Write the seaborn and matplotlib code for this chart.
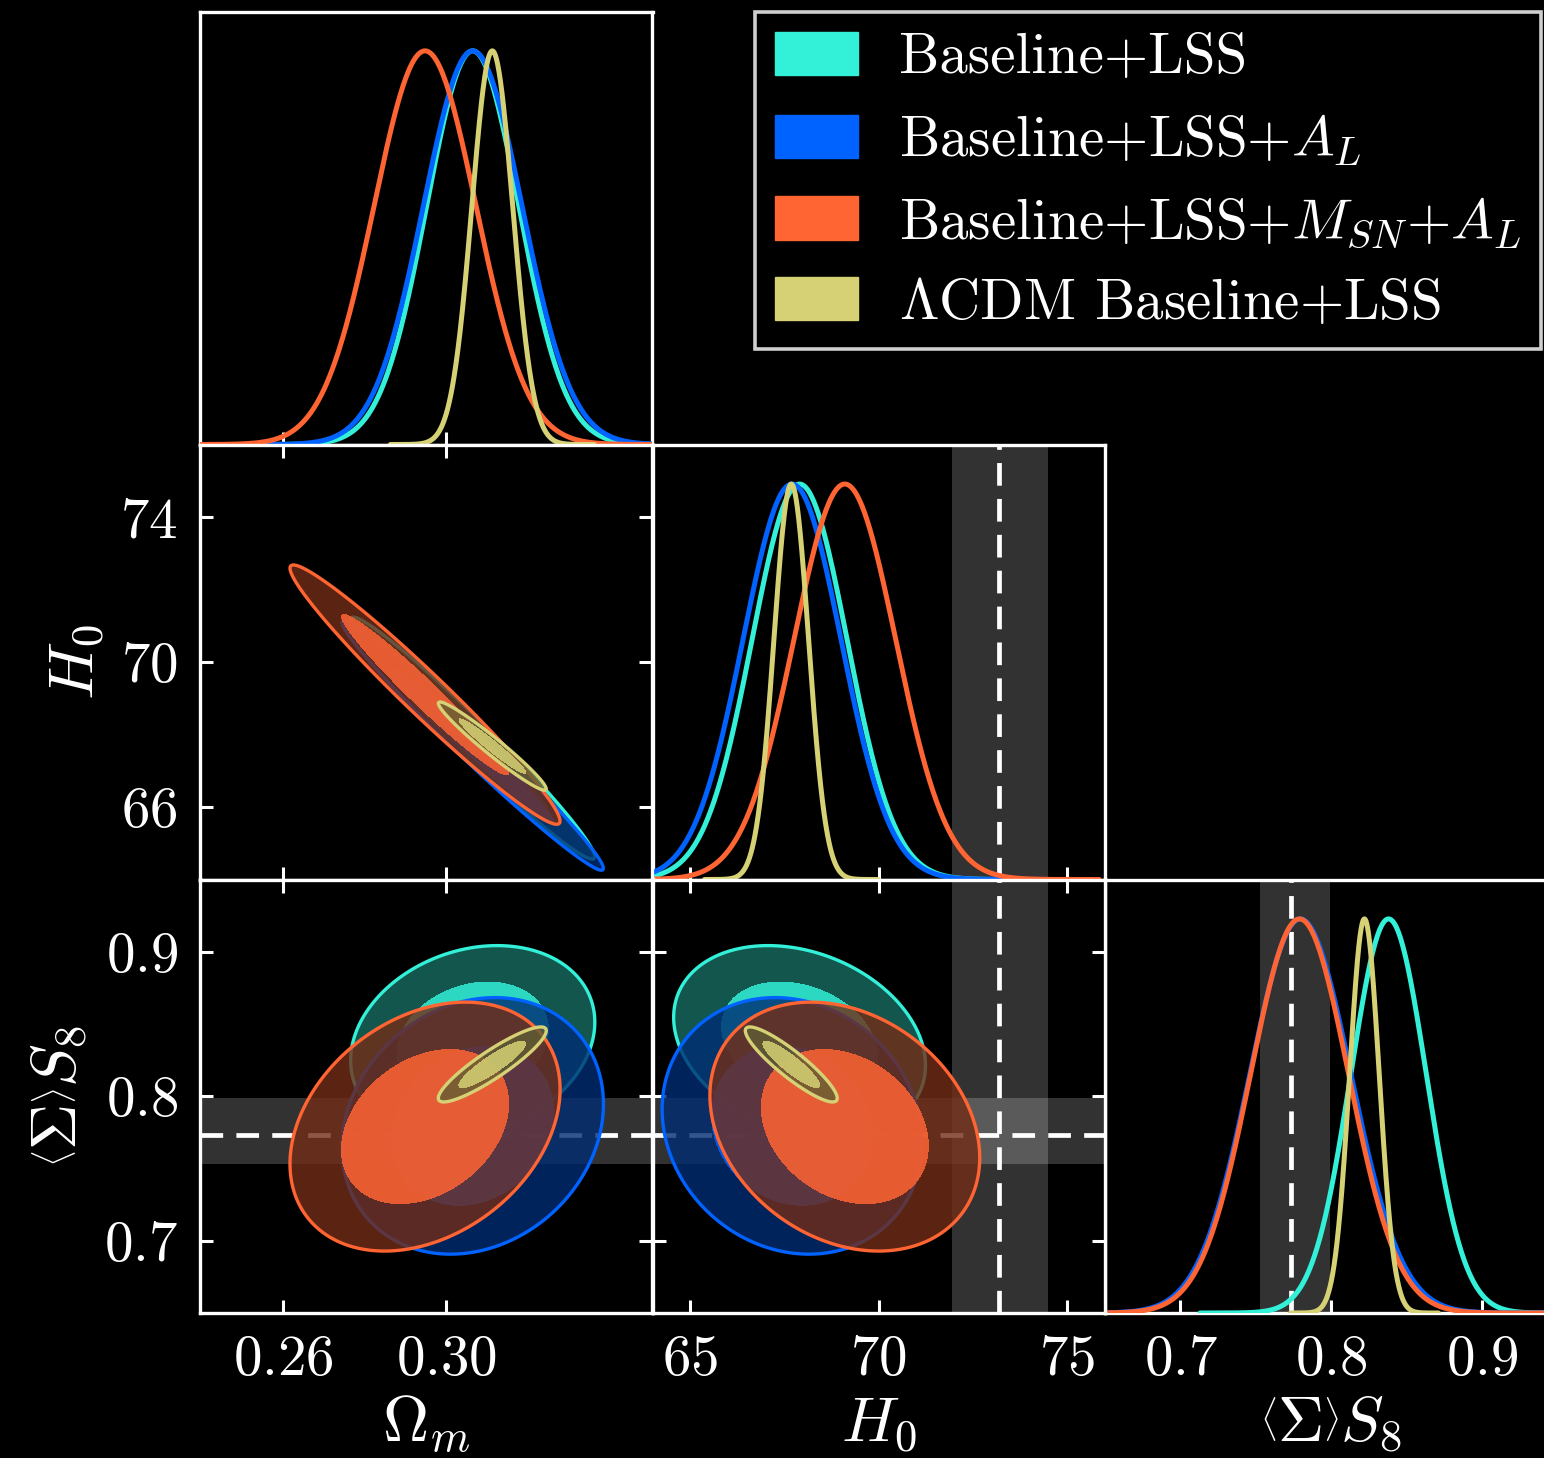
import numpy as np
import pandas as pd
import matplotlib
matplotlib.use("Agg")
import matplotlib.pyplot as plt
import seaborn as sns
from matplotlib.patches import Patch
from matplotlib.colors import to_rgb

# ---- posterior summaries for each data combination ----
LABELS = ["Baseline+LSS",
          "Baseline+LSS+$A_L$",
          "Baseline+LSS+$M_{SN}$+$A_L$",
          r"$\Lambda$CDM Baseline+LSS"]
COLORS = ["#33F0D8", "#0062FF", "#FF6433", "#D5D174"]

OM_MEAN = [0.3065, 0.3065, 0.2948, 0.3113]
OM_SIG = [0.0113, 0.0121, 0.0125, 0.0050]
H0_MEAN = [67.90, 67.70, 69.10, 67.68]
H0_SIG = [1.26, 1.30, 1.35, 0.46]
S8_MEAN = [0.838, 0.7795, 0.779, 0.822]
S8_SIG = [0.0250, 0.0335, 0.0325, 0.0098]

RHO_OM_H0 = [-0.980, -0.985, -0.975, -0.970]
RHO_OM_S8 = [0.20, 0.17, 0.30, 0.90]
RHO_H0_S8 = [-0.25, -0.13, -0.25, -0.90]

# external measurements (line = central value, band = 1 sigma)
H0_REF = 73.2
H0_BAND = [71.95, 74.5]
S8_REF = 0.773
S8_BAND = [0.753, 0.799]

# ---- axes set-up ----
AXIS_LABELS = [r"$\Omega_m$", r"$H_0$", r"$\left\langle\Sigma\right\rangle S_8$"]
LIMITS = [(0.2396, 0.3506), (64.0, 76.0), (0.65, 0.95)]
X_TICKS = [[0.26, 0.30], [65, 70, 75], [0.7, 0.8, 0.9]]
X_TICK_LABELS = [["0.26", "0.30"], ["65", "70", "75"], ["0.7", "0.8", "0.9"]]
Y_TICKS = [None, [66, 70, 74], [0.7, 0.8, 0.9]]
Y_TICK_LABELS = [None, ["66", "70", "74"], ["0.7", "0.8", "0.9"]]

MEANS = [OM_MEAN, H0_MEAN, S8_MEAN]
SIGMAS = [OM_SIG, H0_SIG, S8_SIG]
RHOS = {(0, 1): RHO_OM_H0, (0, 2): RHO_OM_S8, (1, 2): RHO_H0_S8}

R_IN, R_OUT = 1.64, 2.65   # contour radii in units of sigma

sns.set_style("dark")
plt.rcParams.update({
    "figure.facecolor": "black",
    "axes.facecolor": "black",
    "axes.edgecolor": "white",
    "axes.linewidth": 2.4,
    "axes.grid": False,
    "text.color": "white",
    "axes.labelcolor": "white",
    "xtick.color": "white",
    "ytick.color": "white",
    "mathtext.fontset": "cm",
})
plt.rcParams["font.family"] = ["cmr10", "DejaVu Serif"]
plt.rcParams["axes.unicode_minus"] = False

W, H = 1544, 1458
fig = plt.figure(figsize=(W / 100, H / 100), dpi=100)
COL_EDGES = [200, 652.5, 1105, 1557.5]
ROW_EDGES = [11.5, 444.5, 879.5, 1313]
XLABEL_BASE = 1442   # baseline of the x-axis titles (pixels from top)


def add_panel(r, c):
    l = COL_EDGES[c] / W
    w = (COL_EDGES[c + 1] - COL_EDGES[c]) / W
    b = 1 - ROW_EDGES[r + 1] / H
    h = (ROW_EDGES[r + 1] - ROW_EDGES[r]) / H
    return fig.add_axes([l, b, w, h])


def style_ticks(ax, r, c, diag):
    ax.set_xticks(X_TICKS[c])
    if r == 2:
        ax.set_xticklabels([f"${t}$" for t in X_TICK_LABELS[c]])
    else:
        ax.set_xticklabels([])
    if diag:
        ax.set_yticks([])
        ax.tick_params(axis="x", direction="in", length=9.5, width=2.2,
                       top=False, bottom=True, labelsize=41, pad=16)
    else:
        ax.set_yticks(Y_TICKS[r])
        if c == 0:
            ax.set_yticklabels([f"${t}$" for t in Y_TICK_LABELS[r]])
        else:
            ax.set_yticklabels([])
        ax.tick_params(axis="both", direction="in", length=9.5, width=2.2,
                       top=True, right=True, bottom=True, left=True,
                       labelsize=41, pad=16)
    for s in ax.spines.values():
        s.set_color("white")
        s.set_linewidth(2.4)


def bottom_label(ax, text):
    ax.set_xlabel(text, fontsize=46)
    height = ROW_EDGES[3] - ROW_EDGES[2]
    ax.xaxis.set_label_coords(0.5, -(XLABEL_BASE - ROW_EDGES[3]) / height)
    ax.xaxis.label.set_va("baseline")


def reference_marks(ax, axis, which):
    ref, band = (H0_REF, H0_BAND) if which == "h0" else (S8_REF, S8_BAND)
    if axis == "x":
        ax.axvspan(band[0], band[1], color="white", alpha=0.2, lw=0, zorder=0.5)
        ax.axvline(ref, color="white", lw=3.4, ls=(0, (4.8, 2.8)), zorder=1)
    else:
        ax.axhspan(band[0], band[1], color="white", alpha=0.2, lw=0, zorder=0.5)
        ax.axhline(ref, color="white", lw=3.4, ls=(0, (4.8, 2.8)), zorder=1)


# ---- diagonal: 1D marginals ----
for k in range(3):
    ax = add_panel(k, k)
    lo, hi = LIMITS[k]
    rows = []
    for i, lab in enumerate(LABELS):
        m, s = MEANS[k][i], SIGMAS[k][i]
        x = np.linspace(max(lo, m - 5 * s), min(hi, m + 5 * s), 500)
        y = np.exp(-0.5 * ((x - m) / s) ** 2)
        rows.append(pd.DataFrame({"x": x, "p": y, "set": lab}))
    df = pd.concat(rows, ignore_index=True)
    if k == 1:
        reference_marks(ax, "x", "h0")
    if k == 2:
        reference_marks(ax, "x", "s8")
    sns.lineplot(data=df, x="x", y="p", hue="set", hue_order=LABELS,
                 palette=dict(zip(LABELS, COLORS)), estimator=None, sort=False,
                 lw=3.6, legend=False, ax=ax, zorder=3)
    ax.set_xlim(lo, hi)
    ax.set_ylim(0, 1.1)
    ax.set_xlabel("")
    ax.set_ylabel("")
    style_ticks(ax, k, k, diag=True)
    if k == 2:
        bottom_label(ax, AXIS_LABELS[k])

# ---- off-diagonal: 2D contours ----
for (r, c) in [(1, 0), (2, 0), (2, 1)]:
    ax = add_panel(r, c)
    xlo, xhi = LIMITS[c]
    ylo, yhi = LIMITS[r]
    gx = np.linspace(xlo, xhi, 400)
    gy = np.linspace(ylo, yhi, 400)
    X, Y = np.meshgrid(gx, gy)
    if r == 2:
        reference_marks(ax, "y", "s8")
    if c == 1:
        reference_marks(ax, "x", "h0")
    rho_list = RHOS[(c, r)]
    for i in range(len(LABELS)):
        mx, sx = MEANS[c][i], SIGMAS[c][i]
        my, sy = MEANS[r][i], SIGMAS[r][i]
        rho = rho_list[i]
        u = (X - mx) / sx
        v = (Y - my) / sy
        d2 = (u ** 2 - 2 * rho * u * v + v ** 2) / (1 - rho ** 2)
        base = np.array(to_rgb(COLORS[i]))
        outer = tuple(base * 0.45) + (0.8,)
        inner = tuple(base) + (0.85,)
        z = 2 + i
        ax.contourf(X, Y, d2, levels=[-1, R_OUT ** 2], colors=[outer], zorder=z)
        ax.contourf(X, Y, d2, levels=[-1, R_IN ** 2], colors=[inner], zorder=z)
        ax.contour(X, Y, d2, levels=[R_OUT ** 2], colors=[COLORS[i]],
                   linewidths=2.4, zorder=z)
    ax.set_xlim(xlo, xhi)
    ax.set_ylim(ylo, yhi)
    style_ticks(ax, r, c, diag=False)
    if r == 2:
        bottom_label(ax, AXIS_LABELS[c])
    if c == 0:
        ax.set_ylabel(AXIS_LABELS[r], fontsize=46, labelpad=10)

# ---- legend ----
handles = [Patch(facecolor=col, edgecolor=col) for col in COLORS]
leg = fig.legend(handles, LABELS, loc="upper left",
                 bbox_to_anchor=(755 / W, 1 - 12 / H), fontsize=41,
                 frameon=True, fancybox=False, facecolor="black",
                 edgecolor="#CFCFCF", framealpha=1.0, handlelength=1.46,
                 handleheight=0.79, handletextpad=0.72, labelspacing=0.485,
                 borderpad=0.35, borderaxespad=0.0, labelcolor="white")
leg.get_frame().set_linewidth(2.6)

fig.savefig("out.png", dpi=100, facecolor="black")
